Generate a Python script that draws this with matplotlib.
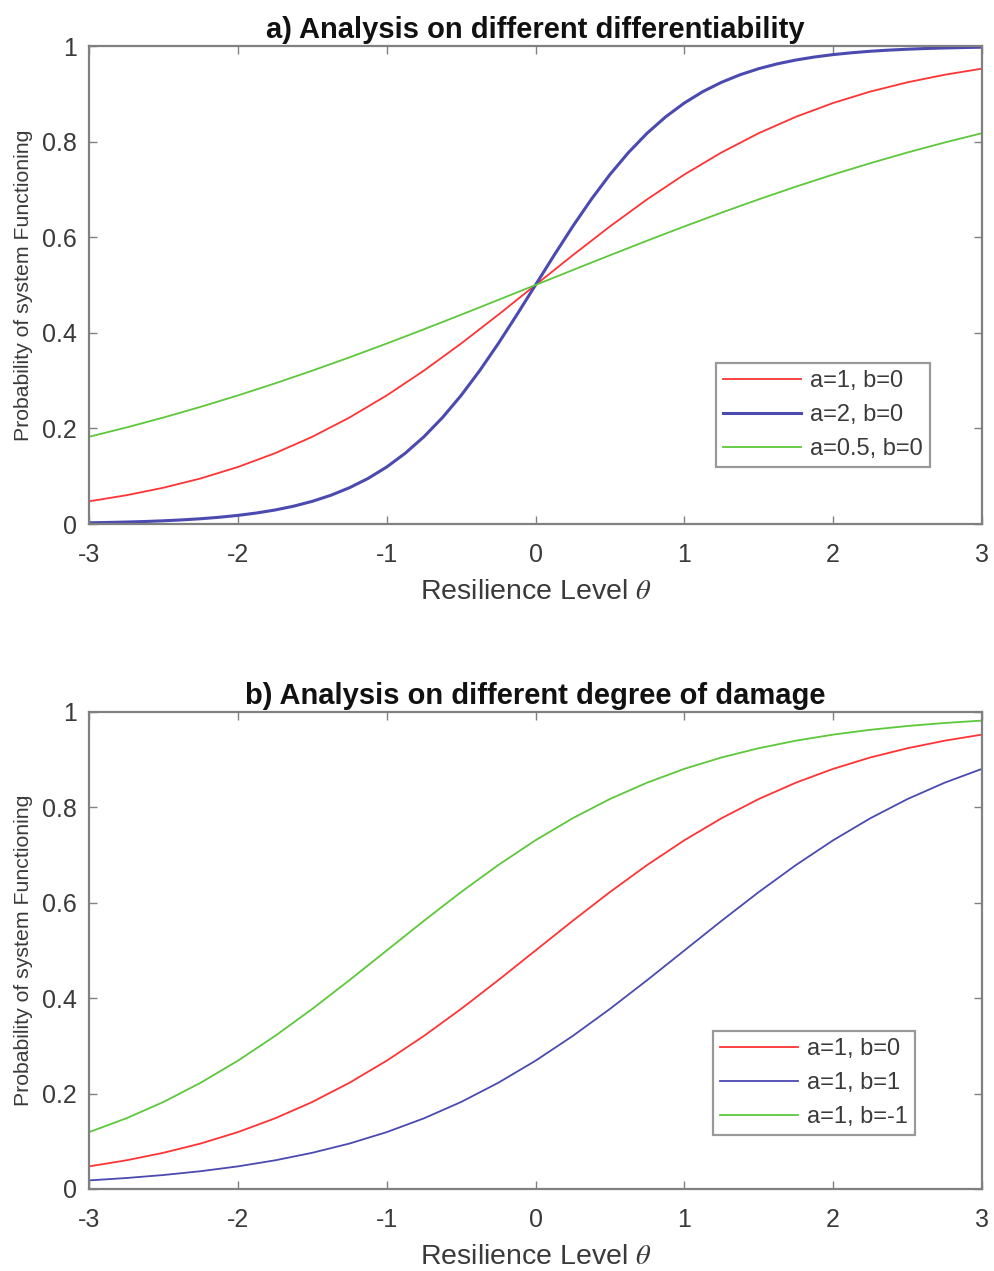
import matplotlib
matplotlib.use("Agg")
import matplotlib.pyplot as plt
import numpy as np

theta = [-3.0, -2.75, -2.5, -2.25, -2.0, -1.75, -1.5, -1.25, -1.0, -0.75, -0.5, -0.25,
         0.0, 0.25, 0.5, 0.75, 1.0, 1.25, 1.5, 1.75, 2.0, 2.25, 2.5, 2.75, 3.0]

p_a1_b0 = [0.0474, 0.0601, 0.0759, 0.0953, 0.1192, 0.1481, 0.1824, 0.2227, 0.2689, 0.3208,
           0.3775, 0.4378, 0.5, 0.5622, 0.6225, 0.6792, 0.7311, 0.7773, 0.8176, 0.8519,
           0.8808, 0.9047, 0.9241, 0.9399, 0.9526]
p_a05_b0 = [0.1824, 0.2018, 0.2227, 0.2451, 0.2689, 0.2942, 0.3208, 0.3486, 0.3775, 0.4073,
            0.4378, 0.4688, 0.5, 0.5312, 0.5622, 0.5927, 0.6225, 0.6514, 0.6792, 0.7058,
            0.7311, 0.7549, 0.7773, 0.7982, 0.8176]
p_a1_b1 = [0.0180, 0.0230, 0.0293, 0.0373, 0.0474, 0.0601, 0.0759, 0.0953, 0.1192, 0.1481,
           0.1824, 0.2227, 0.2689, 0.3208, 0.3775, 0.4378, 0.5, 0.5622, 0.6225, 0.6792,
           0.7311, 0.7773, 0.8176, 0.8519, 0.8808]
p_a1_bm1 = [0.1192, 0.1481, 0.1824, 0.2227, 0.2689, 0.3208, 0.3775, 0.4378, 0.5, 0.5622,
            0.6225, 0.6792, 0.7311, 0.7773, 0.8176, 0.8519, 0.8808, 0.9047, 0.9241, 0.9399,
            0.9526, 0.9627, 0.9707, 0.9770, 0.9820]

# the steep a=2 curve is read on a finer theta grid
theta_fine = [-3.0, -2.875, -2.75, -2.625, -2.5, -2.375, -2.25, -2.125, -2.0, -1.875,
              -1.75, -1.625, -1.5, -1.375, -1.25, -1.125, -1.0, -0.875, -0.75, -0.625,
              -0.5, -0.375, -0.25, -0.125, 0.0, 0.125, 0.25, 0.375, 0.5, 0.625, 0.75,
              0.875, 1.0, 1.125, 1.25, 1.375, 1.5, 1.625, 1.75, 1.875, 2.0, 2.125, 2.25,
              2.375, 2.5, 2.625, 2.75, 2.875, 3.0]
p_a2_b0 = [0.0025, 0.0032, 0.0041, 0.0052, 0.0067, 0.0086, 0.0110, 0.0141, 0.0180, 0.0230,
           0.0293, 0.0373, 0.0474, 0.0601, 0.0759, 0.0953, 0.1192, 0.1481, 0.1824, 0.2227,
           0.2689, 0.3208, 0.3775, 0.4378, 0.5, 0.5622, 0.6225, 0.6792, 0.7311, 0.7773,
           0.8176, 0.8519, 0.8808, 0.9047, 0.9241, 0.9399, 0.9526, 0.9627, 0.9707, 0.9770,
           0.9820, 0.9859, 0.9890, 0.9914, 0.9933, 0.9948, 0.9959, 0.9968, 0.9975]

xticks = [-3, -2, -1, 0, 1, 2, 3]
yticks = [0, 0.2, 0.4, 0.6, 0.8, 1]
ytick_labels = ["0", "0.2", "0.4", "0.6", "0.8", "1"]

plt.rcParams['font.family'] = ['Liberation Sans', 'DejaVu Sans']
plt.rcParams['mathtext.fontset'] = 'stix'
RED = '#ff3333'
BLUE = '#4a4ab0'
GREEN = '#5cc83a'
AXC = '#808080'
TXT = '#3a3a3a'

fig = plt.figure(figsize=(9.95, 12.71), dpi=100)
W, H = 995, 1271
ax1 = fig.add_axes([89 / W, 1 - 524 / H, (982 - 89) / W, (524 - 46) / H])
ax2 = fig.add_axes([89 / W, 1 - 1189 / H, (982 - 89) / W, (1189 - 712) / H])

def style(ax, title):
    ax.set_xlim(-3, 3)
    ax.set_ylim(0, 1)
    ax.set_xticks(xticks)
    ax.set_xticklabels([str(t) for t in xticks])
    ax.set_yticks(yticks)
    ax.set_yticklabels(ytick_labels)
    for s in ax.spines.values():
        s.set_color(AXC)
        s.set_linewidth(1.6)
    ax.tick_params(direction='in', top=True, right=True, length=6, width=1.0,
                   color=AXC, labelcolor=TXT, labelsize=18)
    ax.tick_params(axis='x', pad=14)
    ax.tick_params(axis='y', pad=8.5)
    ax.set_xlabel(r'Resilience Level $\theta$', fontsize=20.5, color=TXT, labelpad=8)
    ax.set_ylabel('Probability of system Functioning', fontsize=15.3, color=TXT, labelpad=7)
    ax.set_title(title, fontsize=21, fontweight='bold', color='#111111', pad=6)

ax1.plot(theta, p_a1_b0, color=RED, lw=1.3, label='a=1, b=0')
ax1.plot(theta_fine, p_a2_b0, color=BLUE, lw=2.2, label='a=2, b=0')
ax1.plot(theta, p_a05_b0, color=GREEN, lw=1.3, label='a=0.5, b=0')
style(ax1, 'a) Analysis on different differentiability')

ax2.plot(theta, p_a1_b0, color=RED, lw=1.3, label='a=1, b=0')
ax2.plot(theta, p_a1_b1, color=BLUE, lw=1.3, label='a=1, b=1')
ax2.plot(theta, p_a1_bm1, color=GREEN, lw=1.3, label='a=1, b=-1')
style(ax2, 'b) Analysis on different degree of damage')

for ax, anchor in ((ax1, (0.942, 0.119)), (ax2, (0.925, 0.113))):
    leg = ax.legend(loc='lower right', bbox_to_anchor=anchor, fontsize=17,
                    frameon=True, fancybox=False, handlelength=3.3, handletextpad=0.4,
                    borderpad=0.3, labelspacing=0.5, borderaxespad=0)
    fr = leg.get_frame()
    fr.set_edgecolor(AXC)
    fr.set_linewidth(1.6)
    for t in leg.get_texts():
        t.set_color(TXT)

fig.savefig('out.png', dpi=100, facecolor='white')
